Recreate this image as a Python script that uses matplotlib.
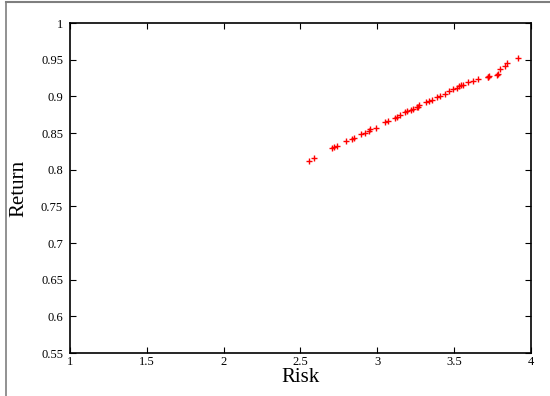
import matplotlib
matplotlib.use("Agg")
import matplotlib.pyplot as plt
from matplotlib.lines import Line2D

# risk / return points
risk = [2.557, 2.588, 2.707, 2.715, 2.735, 2.796, 2.833, 2.848, 2.896, 2.920,
        2.948, 2.952, 2.991, 3.050, 3.067, 3.117, 3.125, 3.147, 3.178, 3.195,
        3.217, 3.230, 3.256, 3.262, 3.269, 3.318, 3.338, 3.358, 3.390, 3.408,
        3.440, 3.468, 3.495, 3.516, 3.533, 3.545, 3.555, 3.592, 3.620, 3.657,
        3.718, 3.722, 3.729, 3.781, 3.785, 3.801, 3.831, 3.846, 3.915]
ret = [0.812, 0.816, 0.829, 0.831, 0.832, 0.839, 0.842, 0.843, 0.849, 0.850,
       0.853, 0.855, 0.857, 0.865, 0.867, 0.871, 0.872, 0.874, 0.878, 0.880,
       0.881, 0.883, 0.885, 0.886, 0.888, 0.892, 0.894, 0.895, 0.899, 0.900,
       0.903, 0.907, 0.910, 0.912, 0.914, 0.915, 0.916, 0.919, 0.921, 0.923,
       0.926, 0.927, 0.928, 0.929, 0.930, 0.937, 0.942, 0.945, 0.952]

xticks = [1, 1.5, 2, 2.5, 3, 3.5, 4]
xticklabels = ["1", "1.5", "2", "2.5", "3", "3.5", "4"]
yticks = [0.55, 0.6, 0.65, 0.7, 0.75, 0.8, 0.85, 0.9, 0.95, 1]
yticklabels = ["0.55", "0.6", "0.65", "0.7", "0.75", "0.8", "0.85", "0.9", "0.95", "1"]

plt.rcParams["font.family"] = ["Liberation Serif", "DejaVu Serif"]

fig = plt.figure(figsize=(5.5, 3.96), dpi=100)
ax = fig.add_axes([70 / 550, 1 - 353 / 396, 461 / 550, 330 / 396])

ax.plot(risk, ret, "+", color="red", markersize=5, markeredgewidth=1)

ax.set_xlim(1, 4)
ax.set_ylim(0.55, 1)
ax.set_xticks(xticks)
ax.set_xticklabels(xticklabels)
ax.set_yticks(yticks)
ax.set_yticklabels(yticklabels)
ax.tick_params(direction="in", length=4, width=0.8, labelsize=9, pad=2,
               top=True, right=True)
ax.tick_params(axis="y", pad=5)
for s in ax.spines.values():
    s.set_linewidth(1.2)

ax.set_xlabel("Risk", fontsize=15, labelpad=0.5)
ax.set_ylabel("Return", fontsize=15, labelpad=9)

# partial gray frame around the figure
fig.add_artist(Line2D([6 / 550, 549 / 550], [1 - 1.5 / 396, 1 - 1.5 / 396],
                      color="#7f7f7f", linewidth=1.5, transform=fig.transFigure))
fig.add_artist(Line2D([6 / 550, 6 / 550], [0, 1 - 1.5 / 396],
                      color="#7f7f7f", linewidth=1.2, transform=fig.transFigure))

fig.savefig("out.png", dpi=100)
